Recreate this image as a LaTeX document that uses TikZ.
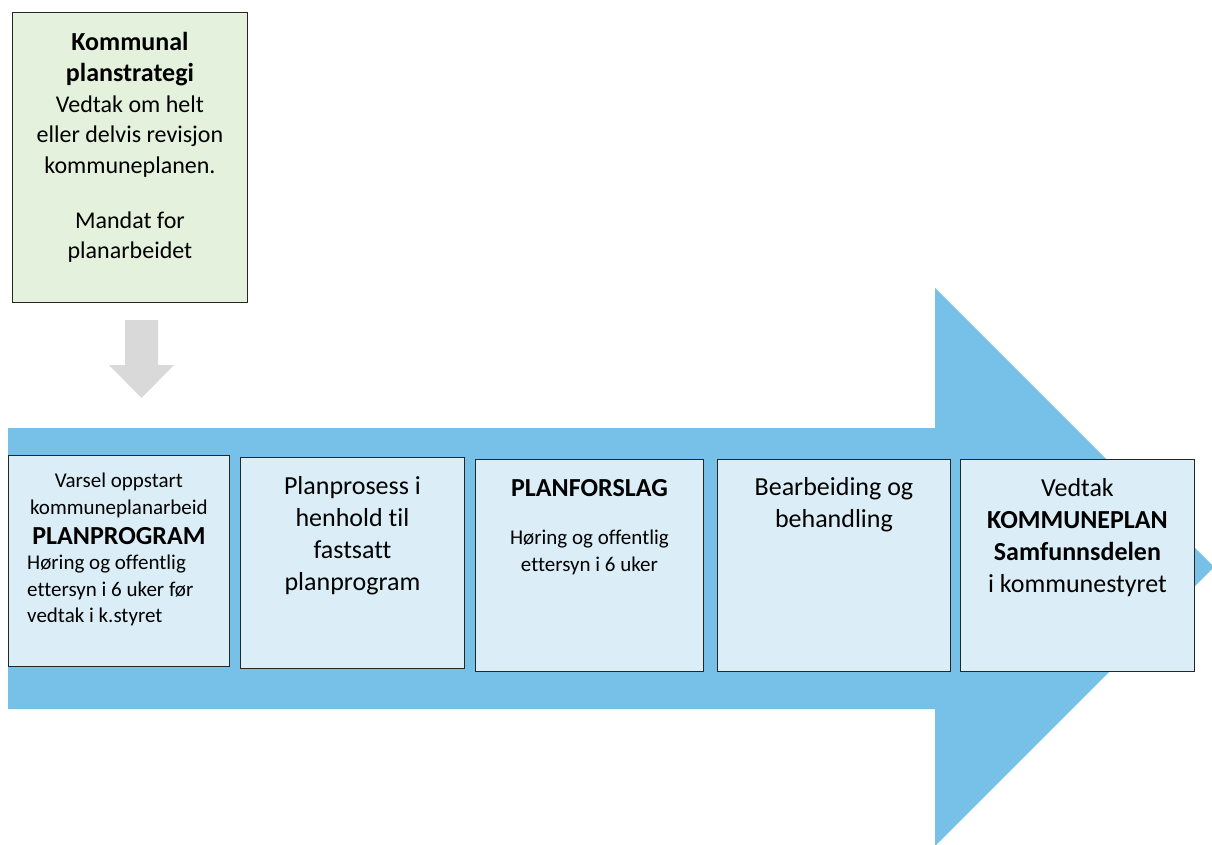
\documentclass[tikz,border=0pt]{standalone}
\usepackage{fontspec}
\setmainfont[Ligatures=CommonOff]{Carlito}
\definecolor{arrowblue}{RGB}{119,193,232}
\definecolor{boxblue}{RGB}{219,238,247}
\definecolor{boxgreen}{RGB}{228,242,221}
\definecolor{arrowgray}{RGB}{217,217,217}
\tikzset{
  stepbox/.style={draw=black!85, line width=0.9pt, fill=boxblue, inner sep=0pt},
  greenbox/.style={draw=black!85, line width=0.9pt, fill=boxgreen, inner sep=0pt},
  txt/.style={align=center, inner sep=0pt, anchor=north},
  smallfont/.style={font=\fontsize{21}{26.5}\selectfont},
  bigfont/.style={font=\fontsize{26}{32}\selectfont},
  midfont/.style={font=\fontsize{24}{30.5}\selectfont},
}
\newcommand{\bigb}[1]{{\fontsize{26}{32}\selectfont\bfseries #1}}
\begin{document}
\begin{tikzpicture}[x=1pt,y=-1pt]
\useasboundingbox (0,0) rectangle (1212,845);
\begin{scope}
\clip (0,0) rectangle (1212,845);
% big arrow
\fill[arrowblue] (8,428) -- (935,428) -- (935,288) -- (1214,567) -- (935,846) -- (935,709) -- (8,709) -- cycle;
\end{scope}
% gray arrow
\fill[arrowgray] (125,320) -- (158,320) -- (158,365) -- (174,365) -- (141.5,398) -- (109,365) -- (125,365) -- cycle;
% green box
\node[greenbox, minimum width=235pt, minimum height=290pt, anchor=north west] (strat) at (12,12) {};
\node[txt, midfont] (strattxt) at ([yshift=-20pt]strat.north) {\bigb{Kommunal}\\[1pt]\bigb{planstrategi}\\Vedtak om helt\\eller delvis revisjon\\kommuneplanen.\\ \\[-6pt]Mandat for\\planarbeidet};
% step boxes
\node[stepbox, minimum width=221pt, minimum height=211pt, anchor=north west] (b1) at (8,455) {};
\node[stepbox, minimum width=224pt, minimum height=211pt, anchor=north west] (b2) at (240,457) {};
\node[stepbox, minimum width=228pt, minimum height=212pt, anchor=north west] (b3) at (475,459) {};
\node[stepbox, minimum width=233pt, minimum height=212pt, anchor=north west] (b4) at (717,459) {};
\node[stepbox, minimum width=234pt, minimum height=212pt, anchor=north west] (b5) at (960,459) {};
\node[txt, smallfont] (t1) at ([yshift=-18pt]b1.north) {Varsel oppstart\\kommuneplanarbeid\\[4pt]\bigb{PLANPROGRAM}};
\node[smallfont, align=left, inner sep=0pt, anchor=north west] (t1b) at (27,555) {Høring og offentlig\\ettersyn i 6 uker før\\vedtak i k.styret};
\node[txt, bigfont] (t2) at ([yshift=-19pt]b2.north) {Planprosess i\\henhold til\\fastsatt\\planprogram};
\node[txt, smallfont] (t3) at ([yshift=-20pt]b3.north) {\bigb{PLANFORSLAG}\\[22pt]Høring og offentlig\\ettersyn i 6 uker};
\node[txt, bigfont] (t4) at ([yshift=-18pt]b4.north) {Bearbeiding og\\behandling};
\node[txt, bigfont] (t5) at ([yshift=-19pt]b5.north) {Vedtak\\\textbf{KOMMUNEPLAN}\\\textbf{Samfunnsdelen}\\i kommunestyret};
\end{tikzpicture}
\end{document}
